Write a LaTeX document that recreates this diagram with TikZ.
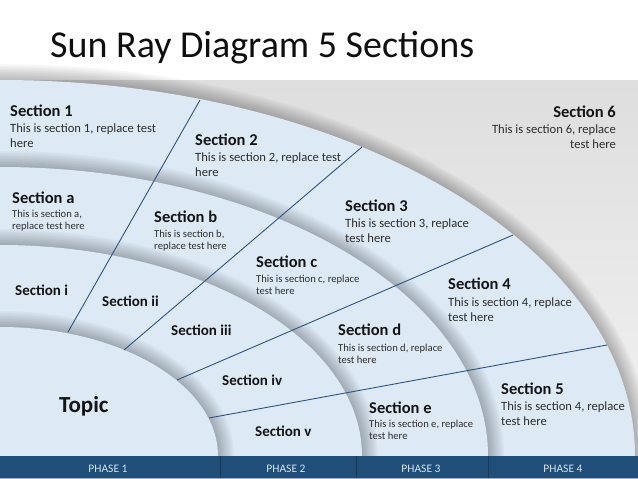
\documentclass[tikz,border=0pt]{standalone}
\usepackage{fontspec}
\setmainfont{Carlito}
\definecolor{bandc}{RGB}{221,234,246}
\definecolor{rayc}{RGB}{44,84,130}
\definecolor{barc}{RGB}{31,78,121}
\definecolor{bardiv}{RGB}{22,58,92}
\definecolor{headc}{RGB}{20,20,20}
\definecolor{bodyc}{RGB}{45,45,45}
\definecolor{phasec}{RGB}{215,228,240}
\definecolor{titlec}{RGB}{15,15,15}
\newcommand\bandshadow[2]{%
  \foreach \k in {1,...,10}{%
    \fill[black,opacity=0.028] (0,456) ellipse [x radius=#1pt+\k*1.6pt, y radius=#2pt+\k*1.6pt];}}
\begin{document}
\begin{tikzpicture}[x=1pt,y=-1pt,
  head/.style={inner sep=0,anchor=base west,font=\fontsize{16.5}{18}\selectfont\bfseries,text=headc},
  bodyA/.style={inner sep=0,anchor=base west,align=left,font=\fontsize{12.6}{15}\selectfont,text=bodyc},
  bodyB/.style={inner sep=0,anchor=base west,align=left,font=\fontsize{10.6}{12}\selectfont,text=bodyc},
  sub/.style={inner sep=0,anchor=base west,font=\fontsize{15}{17}\selectfont\bfseries,text=headc},
  ray/.style={draw=rayc,line width=0.9pt},
  phase/.style={inner sep=0,anchor=base,font=\fontsize{11.5}{13}\selectfont,text=phasec},
  band/.style={fill=bandc}
]
\useasboundingbox (0,0) rectangle (638,479);
\fill[white] (0,0) rectangle (638,479);
\shade[top color=black!13, bottom color=black!5] (0,80) rectangle (638,456);
\begin{scope}
\clip (0,0) rectangle (638,456);
\bandshadow{635}{376}
\fill[band] (0,456) ellipse [x radius=635pt, y radius=376pt];
\bandshadow{488}{289}
\fill[band] (0,456) ellipse [x radius=488pt, y radius=289pt];
\bandshadow{362}{211}
\fill[band] (0,456) ellipse [x radius=362pt, y radius=211pt];
\bandshadow{218}{129}
\fill[band] (0,456) ellipse [x radius=218pt, y radius=129pt];
\end{scope}
% rays
\coordinate (r1a) at (68,332);  \coordinate (r1b) at (200,100);
\coordinate (r2a) at (124,350); \coordinate (r2b) at (362,147);
\coordinate (r3a) at (177,380); \coordinate (r3b) at (513,235);
\coordinate (r4a) at (209,418); \coordinate (r4b) at (607,345);
\draw[ray] (r1a) -- (r1b);
\draw[ray] (r2a) -- (r2b);
\draw[ray] (r3a) -- (r3b);
\draw[ray] (r4a) -- (r4b);
% bar
\fill[barc] (0,456) rectangle (638,478);
\fill[black!25!bandc] (0,478) rectangle (638,479);
\coordinate (d1a) at (220,456); \coordinate (d1b) at (220,478);
\coordinate (d2a) at (356,456); \coordinate (d2b) at (356,478);
\coordinate (d3a) at (488,456); \coordinate (d3b) at (488,478);
\draw[bardiv,line width=0.8pt] (d1a) -- (d1b) (d2a) -- (d2b) (d3a) -- (d3b);
\node[phase] (p1) at (108,472) {PHASE 1};
\node[phase] (p2) at (286,472) {PHASE 2};
\node[phase] (p3) at (421,472) {PHASE 3};
\node[phase] (p4) at (563,472) {PHASE 4};
% title
\node[inner sep=0,anchor=base west,font=\fontsize{38}{40}\selectfont,text=titlec] (title) at (50,57) {Sun Ray Diagram 5 Sections};
% outer band (body anchors sit on the last line's baseline)
\node[head] (s1h) at (10,116) {Section 1};
\node[bodyA] (s1b) at (10,147) {This is section 1, replace test\\here};
\node[head] (s2h) at (195,145) {Section 2};
\node[bodyA] (s2b) at (195,176) {This is section 2, replace test\\here};
\node[head] (s3h) at (345,211) {Section 3};
\node[bodyA] (s3b) at (345,242) {This is section 3, replace\\test here};
\node[head] (s4h) at (448,289) {Section 4};
\node[bodyA] (s4b) at (448,321) {This is section 4, replace\\test here};
\node[head] (s5h) at (501,394) {Section 5};
\node[bodyA] (s5b) at (501,425) {This is section 4, replace\\test here};
\node[head,anchor=base east] (s6h) at (616,117) {Section 6};
\node[bodyA,anchor=base east,align=right] (s6b) at (616,148) {This is section 6, replace\\test here};
% middle band
\node[head] (sah) at (12,203) {Section a};
\node[bodyB] (sab) at (12,229) {This is section a,\\replace test here};
\node[head] (sbh) at (154,222) {Section b};
\node[bodyB] (sbb) at (154,249) {This is section b,\\replace test here};
\node[head] (sch) at (256,267) {Section c};
\node[bodyB] (scb) at (256,294) {This is section c, replace\\test here};
\node[head] (sdh) at (338,335) {Section d};
\node[bodyB] (sdb) at (338,363) {This is section d, replace\\test here};
\node[head] (seh) at (369,413) {Section e};
\node[bodyB] (seb) at (369,439) {This is section e, replace\\test here};
% inner band
\node[sub] (si) at (15,295) {Section i};
\node[sub] (sii) at (102,306) {Section ii};
\node[sub] (siii) at (171,335) {Section iii};
\node[sub] (siv) at (222,385) {Section iv};
\node[sub] (sv) at (255,436) {Section v};
\node[inner sep=0,anchor=base west,font=\fontsize{23}{25}\selectfont\bfseries,text=headc] (topic) at (59,412) {Topic};
\end{tikzpicture}
\end{document}
